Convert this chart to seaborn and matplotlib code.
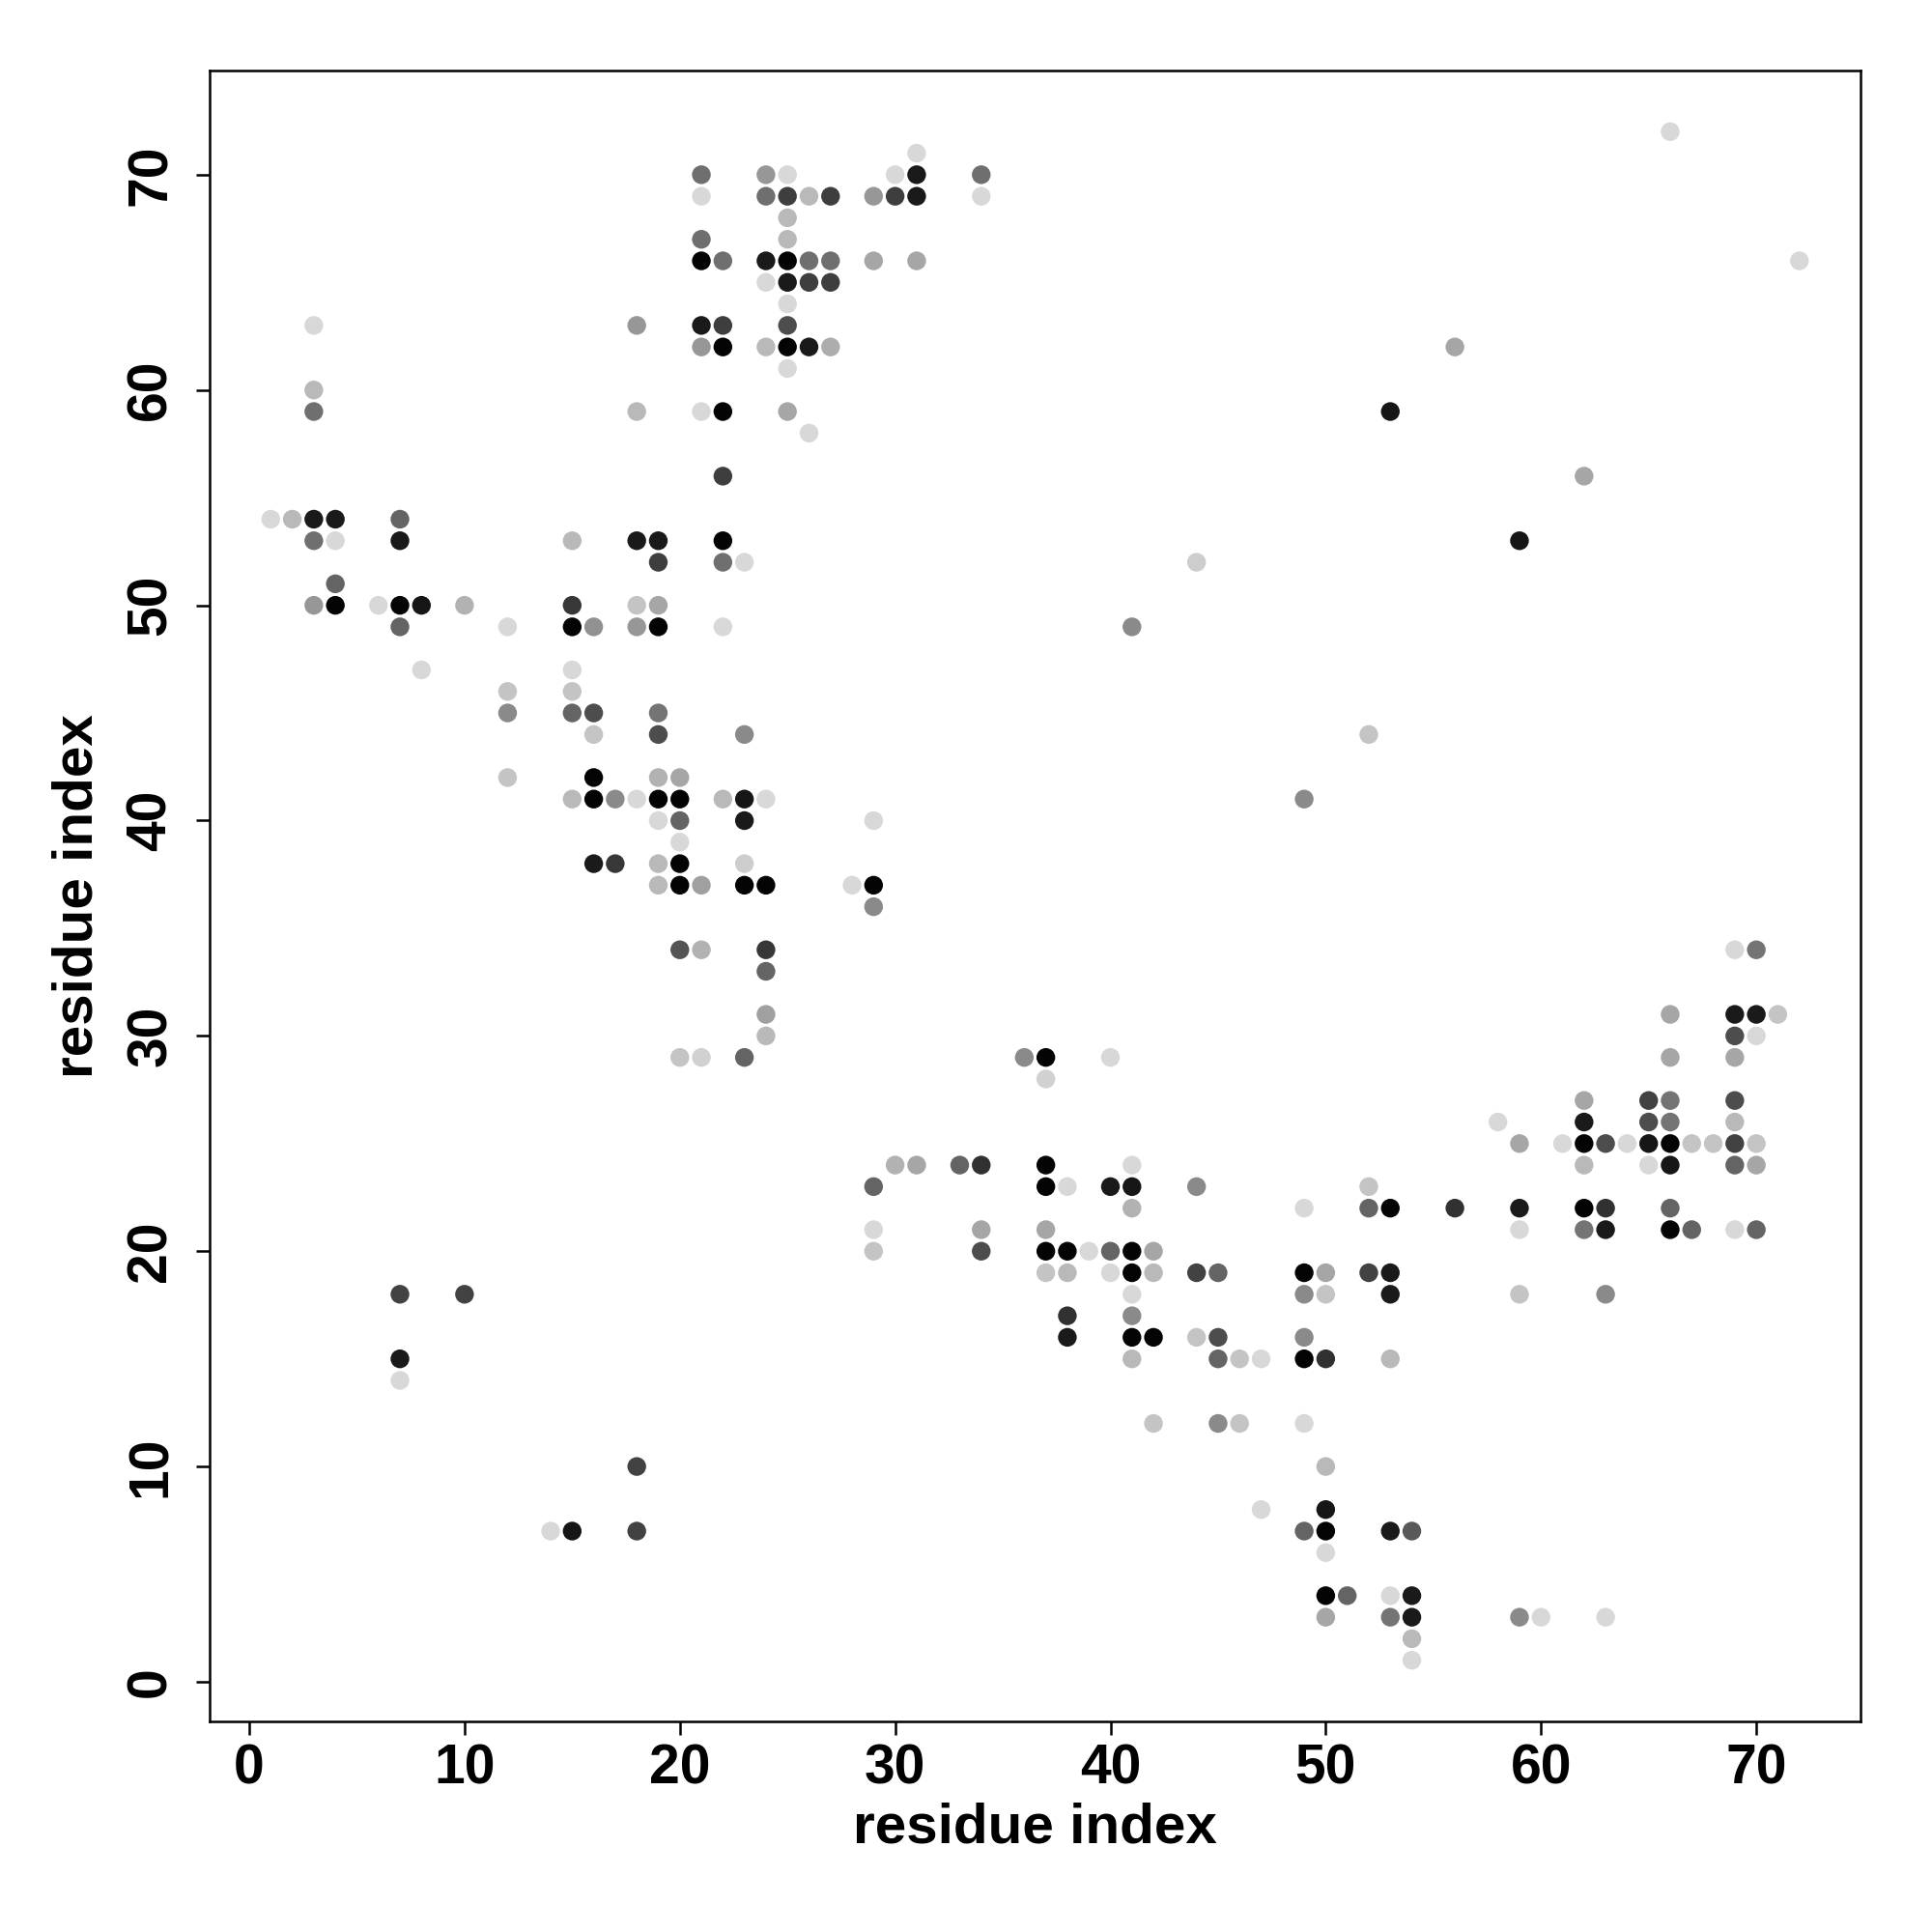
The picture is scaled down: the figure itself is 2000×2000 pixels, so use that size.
#!/usr/bin/env python3
"""Residue contact map, grey level = contact probability"""

import numpy as np
import pandas as pd
import matplotlib
matplotlib.use('Agg')
import matplotlib.pyplot as plt
import seaborn as sns
from matplotlib.colors import LinearSegmentedColormap

# residue i, residue j, contact probability (one line per row of the map)
res_i = [
    21, 21, 21, 21, 22, 21, 22, 21, 22, 21, 22, 22, 22, 22, 23, 22,
    18, 18, 3, 3, 3,
    24, 25, 30, 31, 34, 31,
    24, 25, 26, 27, 29, 30, 31, 34,
    25, 25, 24, 25, 26, 27, 29, 31,
    24, 25, 26, 27, 25, 25, 24, 25, 26, 27, 25, 25, 26,
    1, 2, 3, 4, 7,
    3, 4, 7, 15, 18, 19,
    19,
    4,
    3, 4, 6, 7, 8, 10, 15, 18, 19,
    7, 12, 15, 16, 18, 19,
    8, 15,
    12, 15,
    12, 15, 16, 19,
    16, 19, 23,
    12, 16, 19, 20,
    15, 16, 17, 18, 19, 20, 22, 23, 24,
    19, 20, 23, 29,
    20,
    16, 17, 19, 20, 23,
    19, 20, 21, 23, 24, 28, 29,
    29,
    20, 21, 24,
    24,
    24,
    24,
    20, 21, 23, 36, 37, 40,
    37,
    44, 41, 49, 52, 53, 59, 56, 62, 66, 72,
    7, 10, 7, 7, 18, 14, 15, 18,
    30, 31, 33, 34, 37, 41,
    29, 37, 38, 40, 41, 44,
    41, 49,
    29, 34, 37,
    29, 34, 37, 38, 39, 40, 41, 42,
    37, 38, 40, 41, 42, 44, 45, 49,
    41, 49,
    38, 41,
    38, 41, 42, 44, 45, 49,
    41, 45, 46, 47, 49,
    42, 45, 46, 49,
    47,
    49,
    69, 70,
    66, 69, 70, 71,
    69, 70,
    66, 69,
    62, 65, 66, 69,
    58, 62, 65, 66, 69,
    59, 61, 62, 63, 64, 65, 66, 67, 68, 69, 70,
    62, 65, 66, 69, 70,
    52,
    52, 53, 56, 59, 62, 63, 66,
    59, 62, 63, 66, 67, 69, 70,
    50, 52, 53,
    50, 53, 59, 63,
    50, 53,
    50,
    50,
    50, 53, 54,
    50,
    50, 51, 53, 54,
    50, 53, 54, 59, 60, 63,
    54,
    54,
]

res_j = [
    70, 69, 67, 66, 66, 63, 63, 62, 62, 59, 59, 56, 53, 52, 52, 49,
    63, 59, 63, 60, 59,
    70, 70, 70, 70, 70, 71,
    69, 69, 69, 69, 69, 69, 69, 69,
    68, 67, 66, 66, 66, 66, 66, 66,
    65, 65, 65, 65, 64, 63, 62, 62, 62, 62, 61, 59, 58,
    54, 54, 54, 54, 54,
    53, 53, 53, 53, 53, 53,
    52,
    51,
    50, 50, 50, 50, 50, 50, 50, 50, 50,
    49, 49, 49, 49, 49, 49,
    47, 47,
    46, 46,
    45, 45, 45, 45,
    44, 44, 44,
    42, 42, 42, 42,
    41, 41, 41, 41, 41, 41, 41, 41, 41,
    40, 40, 40, 40,
    39,
    38, 38, 38, 38, 38,
    37, 37, 37, 37, 37, 37, 37,
    36,
    34, 34, 34,
    33,
    31,
    30,
    29, 29, 29, 29, 29, 29,
    28,
    52, 49, 41, 44, 59, 53, 62, 56, 72, 66,
    18, 18, 15, 14, 10, 7, 7, 7,
    24, 24, 24, 24, 24, 24,
    23, 23, 23, 23, 23, 23,
    22, 22,
    21, 21, 21,
    20, 20, 20, 20, 20, 20, 20, 20,
    19, 19, 19, 19, 19, 19, 19, 19,
    18, 18,
    17, 17,
    16, 16, 16, 16, 16, 16,
    15, 15, 15, 15, 15,
    12, 12, 12, 12,
    8,
    7,
    34, 34,
    31, 31, 31, 31,
    30, 30,
    29, 29,
    27, 27, 27, 27,
    26, 26, 26, 26, 26,
    25, 25, 25, 25, 25, 25, 25, 25, 25, 25, 25,
    24, 24, 24, 24, 24,
    23,
    22, 22, 22, 22, 22, 22, 22,
    21, 21, 21, 21, 21, 21, 21,
    19, 19, 19,
    18, 18, 18, 18,
    15, 15,
    10,
    8,
    7, 7, 7,
    6,
    4, 4, 4, 4,
    3, 3, 3, 3, 3, 3,
    2,
    1,
]

prob = [
    .50, .03, .50, .98, .50, .88, .72, .32, .98, .03, .98, .72, .98, .50, .03, .03,
    .32, .17, .03, .17, .50,
    .32, .03, .03, .88, .50, .03,
    .50, .72, .17, .72, .32, .72, .88, .03,
    .17, .17, .88, .98, .50, .50, .25, .25,
    .03, .88, .72, .72, .03, .65, .17, .98, .88, .22, .03, .25, .03,
    .03, .17, .88, .88, .55,
    .50, .03, .88, .17, .88, .88,
    .72,
    .55,
    .32, .98, .03, .98, .90, .20, .75, .12, .25,
    .55, .03, .98, .35, .32, .98,
    .03, .03,
    .12, .12,
    .38, .55, .65, .48,
    .12, .65, .38,
    .12, .98, .20, .25,
    .17, .98, .38, .03, .98, .98, .17, .90, .03,
    .03, .55, .88, .03,
    .03,
    .88, .75, .17, .98, .08,
    .17, .98, .28, .98, .98, .03, .98,
    .38,
    .62, .20, .75,
    .55,
    .28,
    .17,
    .12, .06, .55, .38, .98, .03,
    .06,
    .08, .38, .38, .12, .90, .90, .25, .25, .03, .03,
    .70, .70, .88, .03, .70, .03, .90, .70,
    .20, .25, .55, .78, .98, .03,
    .55, .98, .03, .88, .90, .38,
    .20, .03,
    .03, .25, .25,
    .12, .65, .98, .98, .03, .55, .98, .25,
    .12, .17, .03, .98, .17, .70, .55, .98,
    .03, .38,
    .78, .38,
    .88, .98, .98, .12, .65, .38,
    .17, .55, .12, .03, .98,
    .12, .38, .12, .03,
    .03,
    .55,
    .03, .48,
    .25, .88, .88, .12,
    .65, .03,
    .25, .25,
    .25, .70, .48, .65,
    .03, .88, .65, .48, .17,
    .25, .03, .98, .65, .03, .90, .98, .12, .12, .70, .12,
    .17, .03, .90, .55, .25,
    .12,
    .55, .98, .78, .88, .98, .78, .55,
    .03, .48, .88, .98, .55, .03, .55,
    .25, .70, .88,
    .12, .88, .12, .38,
    .78, .17,
    .17,
    .90,
    .98, .88, .60,
    .03,
    .98, .55, .03, .88,
    .25, .48, .88, .38, .03, .03,
    .17,
    .03,
]

df = pd.DataFrame({'i': res_i, 'j': res_j, 'p': prob})
df = df.sort_values('p')

sns.set_theme(style="white")
plt.rcParams['font.family'] = ['Liberation Sans', 'DejaVu Sans']
plt.rcParams['text.color'] = 'black'
plt.rcParams['axes.labelcolor'] = 'black'
plt.rcParams['xtick.color'] = 'black'
plt.rcParams['ytick.color'] = 'black'

cmap = LinearSegmentedColormap.from_list('contact', ['#dedede', '#000000'])

fig = plt.figure(figsize=(20, 20), dpi=100)
ax = fig.add_axes([0.1085, 0.109, 0.8545, 0.8545])
sns.scatterplot(data=df, x='i', y='j', hue='p', palette=cmap, hue_norm=(0, 1),
                s=195, linewidth=0, legend=False, ax=ax)

ax.set_xlim(-1.84, 74.84)
ax.set_ylim(-1.84, 74.84)
ticks = list(range(0, 71, 10))
ax.set_xticks(ticks)
ax.set_yticks(ticks)
ax.set_xticklabels([str(t) for t in ticks], fontsize=41, fontweight='bold')
ax.set_yticklabels([str(t) for t in ticks], fontsize=41, fontweight='bold',
                   rotation=90, va='center')
ax.tick_params(axis='both', direction='out', length=10, width=1.8, colors='black',
               left=True, bottom=True)
ax.tick_params(axis='x', pad=6)
ax.tick_params(axis='y', pad=14)
for sp in ax.spines.values():
    sp.set_visible(True)
    sp.set_color('black')
    sp.set_linewidth(1.8)

ax.set_xlabel('residue index', fontsize=42, fontweight='bold', labelpad=5, color='black')
ax.set_ylabel('residue index', fontsize=42, fontweight='bold', labelpad=16, color='black')

plt.savefig('out.png', dpi=100)
plt.close()
